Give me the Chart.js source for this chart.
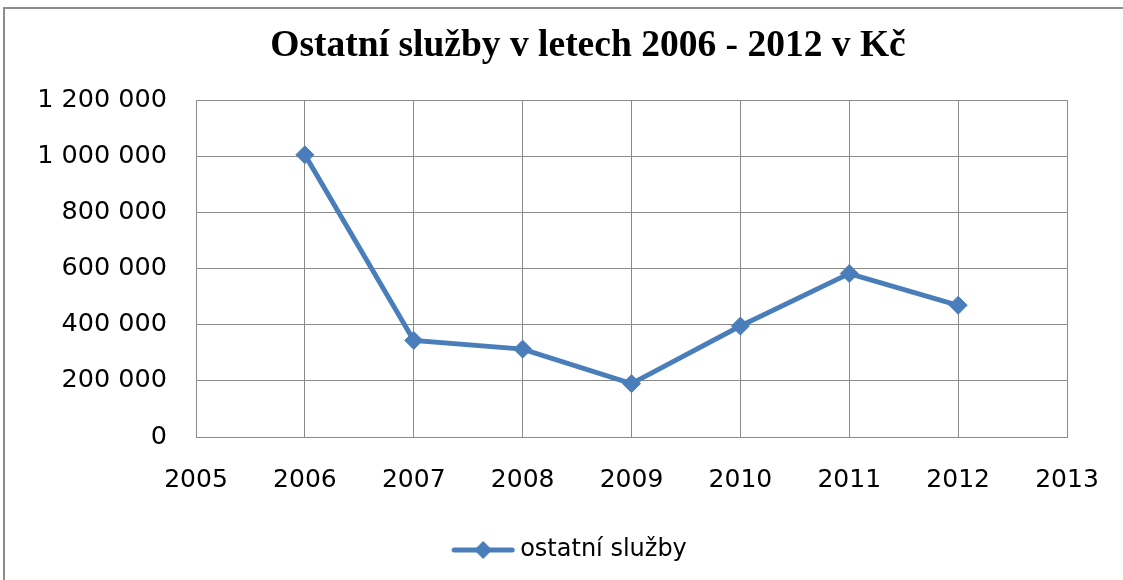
<!DOCTYPE html>
<html>
<head>
<meta charset="utf-8">
<script src="https://cdn.jsdelivr.net/npm/chart.js@4/dist/chart.umd.min.js"></script>
<style>
  html, body { margin: 0; padding: 0; background: #ffffff; overflow: hidden; width: 1123px; height: 580px; }
  #frame { position: absolute; left: 3px; top: 7px; width: 1300px; height: 800px; border: 2px solid #8c8c8c; box-sizing: border-box; }
  #wrap { position: absolute; left: 0; top: 0; width: 1140px; height: 580px; }
</style>
</head>
<body>
<div id="frame"></div>
<div id="wrap"><canvas id="c"></canvas></div>
<script>
// ---- data ----
const years = [2006, 2007, 2008, 2009, 2010, 2011, 2012];
const values = [1005000, 344000, 313000, 190000, 395000, 582000, 469000];
const seriesName = 'ostatní služby';
const chartTitle = 'Ostatní služby v letech 2006 - 2012 v Kč';
const xMin = 2005, xMax = 2013;
const yMin = 0, yMax = 1200000, yStep = 200000;

const lineColor = '#4a7ebb';
const gridColor = '#898989';

function fmtSpace(v) {
  return String(v).replace(/\B(?=(\d{3})+(?!\d))/g, ' ');
}

// legend symbol: line with a diamond
const legImg = document.createElement('canvas');
legImg.width = 95; legImg.height = 22;
(function () {
  const g = legImg.getContext('2d');
  g.strokeStyle = lineColor; g.lineWidth = 5; g.lineCap = 'round';
  g.beginPath(); g.moveTo(3, 11); g.lineTo(61, 11); g.stroke();
  g.fillStyle = lineColor;
  g.beginPath(); g.moveTo(32, 2); g.lineTo(41, 11); g.lineTo(32, 20); g.lineTo(23, 11); g.closePath(); g.fill();
})();

Chart.defaults.font.family = "'DejaVu Sans', sans-serif";
Chart.defaults.color = '#000000';

new Chart(document.getElementById('c'), {
  type: 'line',
  data: {
    datasets: [{
      label: seriesName,
      data: years.map((y, i) => ({ x: y, y: values[i] })),
      borderColor: lineColor,
      backgroundColor: lineColor,
      borderWidth: 5,
      pointStyle: 'rectRot',
      pointRadius: 9,
      pointBorderWidth: 1,
      pointBackgroundColor: lineColor,
      pointBorderColor: lineColor,
      tension: 0,
      fill: false
    }]
  },
  options: {
    responsive: true,
    maintainAspectRatio: false,
    animation: false,
    layout: { padding: { left: 36, right: 0, top: 0, bottom: 8 } },
    plugins: {
      title: {
        display: true,
        text: chartTitle,
        color: '#000000',
        font: { family: "'Liberation Serif', 'Times New Roman', serif", size: 37.5, weight: 'bold' },
        padding: { top: 23.5, bottom: 31.5 }
      },
      legend: {
        display: true,
        position: 'bottom',
        labels: {
          usePointStyle: true,
          pointStyle: legImg,
          pointStyleWidth: 19,
          padding: 10,
          color: '#000000',
          font: { size: 24 }
        }
      },
      tooltip: { enabled: false }
    },
    scales: {
      x: {
        type: 'linear',
        min: xMin, max: xMax,
        ticks: { stepSize: 1, padding: 28, font: { size: 25 }, color: '#000000', callback: v => String(v) },
        grid: { color: gridColor, lineWidth: 1, drawTicks: false },
        border: { color: gridColor, width: 1 },
        afterFit: s => { s.height = 91; }
      },
      y: {
        min: yMin, max: yMax,
        ticks: { stepSize: yStep, padding: 29, font: { size: 25.5 }, color: '#000000', callback: v => fmtSpace(v) },
        grid: { color: gridColor, lineWidth: 1, drawTicks: false },
        border: { color: gridColor, width: 1 },
        afterFit: s => { s.width = 160; }
      },
      yRight: {
        position: 'right',
        display: true,
        min: yMin, max: yMax,
        ticks: { display: false },
        grid: { drawOnChartArea: false, drawTicks: false },
        border: { display: false },
        afterFit: s => { s.width = 73; }
      }
    }
  }
});
</script>
</body>
</html>
